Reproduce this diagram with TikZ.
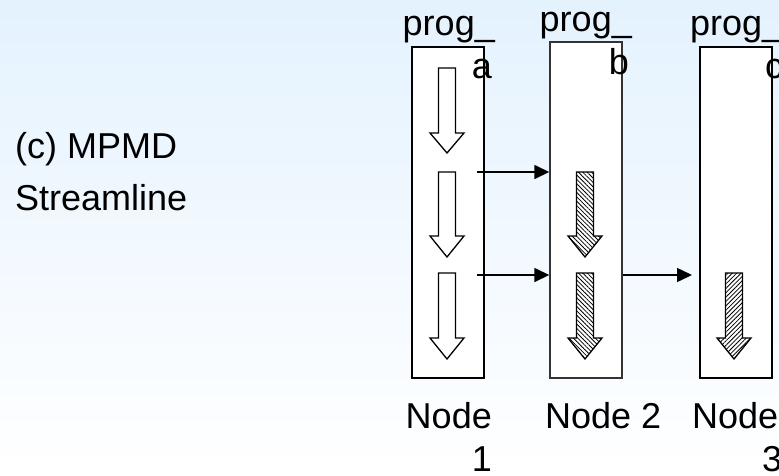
\documentclass[tikz,border=0pt]{standalone}
\usepackage{fontspec}
\setmainfont{Liberation Sans}
\usetikzlibrary{arrows.meta,patterns.meta}
\definecolor{bgtop}{RGB}{228,242,254}
\newcommand{\blockarr}[5]{%
  \draw[#5] (#1-8.5,#2) -- (#1+8.5,#2) -- (#1+8.5,#3) -- (#1+17,#3) -- (#1,#4)
    -- (#1-17,#3) -- (#1-8.5,#3) -- cycle;}
\begin{document}
\begin{tikzpicture}[x=1pt,y=-1pt,
  lbl/.style={inner sep=0pt, font=\fontsize{36}{43}\selectfont},
  procbox/.style={draw=black, line width=2pt, fill=white, inner sep=0pt, minimum width=72pt},
  hollow/.style={draw=black, line width=1.3pt, fill=white, line join=miter},
  hatchnw/.style={draw=black, line width=1.3pt, line join=miter, preaction={fill=white},
    pattern={Lines[angle=-45,distance=3.1pt,line width=0.8pt]}},
  hatchne/.style={draw=black, line width=1.3pt, line join=miter, preaction={fill=white},
    pattern={Lines[angle=45,distance=3.1pt,line width=0.8pt]}},
  link/.style={draw=black, line width=1.5pt, -{Triangle[length=15pt,width=14pt]}}
]
\useasboundingbox (0,0) rectangle (779,475);
\shade[top color=bgtop, bottom color=white] (0,0) rectangle (779,475);

% boxes
\node[procbox, minimum height=331pt] (box1) at (448,212.5) {};
\node[procbox, draw=black!80, line width=1.4pt, minimum height=336pt] (box2) at (586,210) {};
\node[procbox, minimum height=331pt] (box3) at (736,212.5) {};

% block arrows
\blockarr{447}{68}{133}{153}{hollow}
\blockarr{447}{172}{236}{257}{hollow}
\blockarr{447}{273}{338}{359}{hollow}
\blockarr{585}{172}{236}{257}{hatchnw}
\blockarr{585}{273}{338}{359}{hatchnw}
\blockarr{734}{273}{338}{359}{hatchne}

% connectors
\coordinate (s1) at (477,172);
\coordinate (s2) at (477,275);
\coordinate (e3) at ([xshift=-7pt]box3.west |- s2);
\draw[link] (s1) -- (s1 -| box2.west);
\draw[link] (s2) -- (s2 -| box2.west);
\draw[link] (s2 -| box2.east) -- (e3);

% labels
\node[lbl, anchor=base east] (pa1) at (495,35) {prog\_};
\node[lbl, anchor=base east] (pa2) at (492,78) {a};
\node[lbl, anchor=base east] (pb1) at (632,31) {prog\_};
\node[lbl, anchor=base east] (pb2) at (629,74) {b};
\node[lbl, anchor=base west] (pc1) at (690,35) {prog\_};
\node[lbl, anchor=base west] (pc2) at (765,78) {c};

\node[lbl, anchor=base east] (n1a) at (492,428) {Node};
\node[lbl, anchor=base east] (n1b) at (492,471) {1};
\node[lbl, anchor=base west] (n2) at (545,428) {Node 2};
\node[lbl, anchor=base west] (n3a) at (692,428) {Node};
\node[lbl, anchor=base west] (n3b) at (762,471) {3};

\node[lbl, anchor=base west] (t1) at (15,158) {(c) MPMD};
\node[lbl, anchor=base west] (t2) at (15,210) {Streamline};
\end{tikzpicture}
\end{document}
